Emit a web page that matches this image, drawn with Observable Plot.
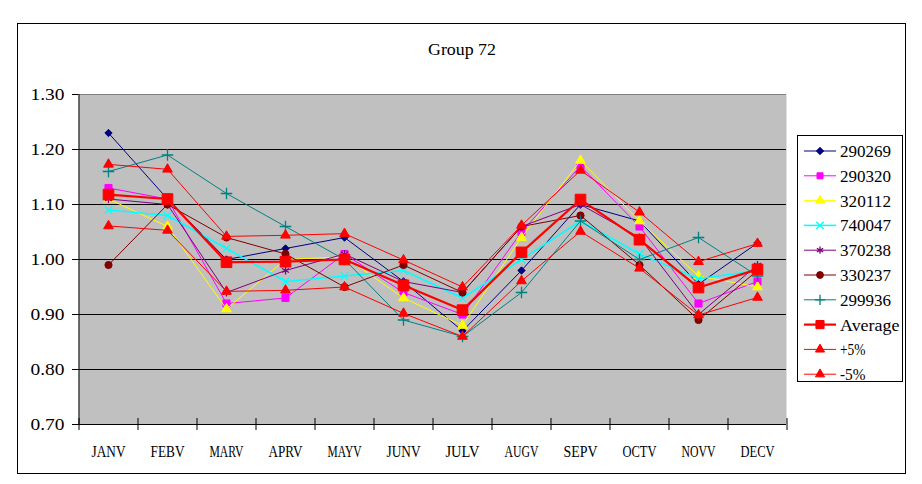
<!DOCTYPE html>
<html>
<head>
<meta charset="utf-8">
<script src="https://cdn.jsdelivr.net/npm/d3@7"></script>
<script src="https://cdn.jsdelivr.net/npm/@observablehq/plot@0.6"></script>
<style>
  body { margin: 0; background: #fff; }
  #wrap { position: relative; width: 922px; height: 484px; overflow: hidden; }
  #chart { position: absolute; left: 0; top: 0; }
  #outer { position: absolute; left: 17px; top: 23px; width: 889px; height: 451px; border: 1px solid #000; box-sizing: border-box; pointer-events: none; }
  #title { position: absolute; left: 0; top: 30px; }
  #legend { position: absolute; left: 797px; top: 135px; width: 106px; height: 247px; border: 1px solid #000; box-sizing: border-box; background: #fff; }
  #legend svg { position: absolute; left: 0; top: 0; }
</style>
</head>
<body>
<div id="wrap">
  <div id="outer"></div>
  <div id="chart"></div>
  <div id="title"></div>
  <div id="legend"></div>
</div>
<script>
// ---- data ----
const titleText = "Group 72";
const months = ["JANV","FEBV","MARV","APRV","MAYV","JUNV","JULV","AUGV","SEPV","OCTV","NOVV","DECV"];
const yTicks = [0.7, 0.8, 0.9, 1.0, 1.1, 1.2, 1.3];
const seriesNames = ["290269","290320","320112","740047","370238","330237","299936","Average","+5%","-5%"];

const s290269 = [1.23, 1.11, 1.00, 1.02, 1.04, 0.96, 0.87, 0.98, 1.10, 1.07, 0.955, 1.03];
const s290320 = [1.13, 1.11, 0.92, 0.93, 1.01, 0.94, 0.90, 1.05, 1.17, 1.06, 0.92, 0.96];
const s320112 = [1.11, 1.06, 0.91, 1.00, 1.005, 0.93, 0.88, 1.04, 1.18, 1.07, 0.97, 0.95];
const s740047 = [1.09, 1.08, 1.02, 0.96, 0.97, 0.98, 0.93, 1.00, 1.07, 1.01, 0.965, 0.98];
const s370238 = [1.11, 1.10, 0.94, 0.98, 1.01, 0.96, 0.94, 1.06, 1.10, 1.04, 0.90, 0.99];
const s330237 = [0.99, 1.10, 1.04, 1.01, 0.95, 0.99, 0.94, 1.06, 1.08, 0.99, 0.89, 0.98];
const s299936 = [1.16, 1.19, 1.12, 1.06, 1.00, 0.89, 0.86, 0.94, 1.07, 1.00, 1.04, 0.97];
const sAverage = [1.118, 1.110, 0.995, 0.996, 1.000, 0.953, 0.908, 1.013, 1.109, 1.036, 0.949, 0.982];
const sPlus5   = [1.173, 1.164, 1.042, 1.044, 1.047, 0.999, 0.950, 1.062, 1.162, 1.086, 0.996, 1.029];
const sMinus5  = [1.061, 1.053, 0.942, 0.944, 0.950, 0.902, 0.860, 0.961, 1.051, 0.984, 0.899, 0.931];

const seriesValues = [s290269, s290320, s320112, s740047, s370238, s330237, s299936, sAverage, sPlus5, sMinus5];
const colors  = ["#000080","#FF00FF","#FFFF00","#00FFFF","#800080","#800000","#008080","#FF0000","#FF0000","#FF0000"];
const symbols = ["diamond2","square","triangle","times","asterisk","circle","plus","square","triangle","triangle"];
const filled  = [true, true, true, false, false, true, false, true, true, true];
const radii   = [3.3, 4.0, 3.6, 3.6, 3.8, 3.6, 3.8, 6.0, 3.6, 3.6];
const widths  = [1, 1, 1, 1.5, 1, 1, 1, 2.2, 1, 1];

// ---- build ----
const FONT = "Liberation Serif, DejaVu Serif, serif";
const CHAR_W = 8.5;   // SimSun-like half-width advance
function condense(sel) {
  sel.each(function() {
    const t = this.textContent;
    if (t && t.length) {
      this.setAttribute("textLength", (t.length * CHAR_W).toFixed(1));
      this.setAttribute("lengthAdjust", "spacingAndGlyphs");
    }
  });
}

const marks = [
  Plot.frame({fill: "#c0c0c0", stroke: null}),
  Plot.ruleY(yTicks.slice(1, -1), {stroke: "#000", strokeWidth: 1}),
  Plot.ruleY([yTicks[yTicks.length - 1]], {stroke: "#808080", strokeWidth: 1})
];
seriesNames.forEach((name, k) => {
  const rows = months.map((m, i) => ({series: name, month: m, value: seriesValues[k][i]}));
  marks.push(Plot.line(rows, {x: "month", y: "value", stroke: colors[k], strokeWidth: widths[k]}));
  marks.push(Plot.dot(rows, {
    x: "month", y: "value", symbol: symbols[k], r: radii[k],
    fill: filled[k] ? colors[k] : "none", stroke: colors[k], strokeWidth: filled[k] ? 1 : 1.3
  }));
});
marks.push(
  Plot.ruleY([yTicks[0]], {stroke: "#000", strokeWidth: 1}),
  Plot.ruleX([months[0]], {y1: yTicks[0], y2: yTicks[yTicks.length - 1], dx: -29.5, stroke: "#000"}),
  Plot.ruleX(months, {y1: yTicks[0], y2: yTicks[0], dx: -29.5, insetTop: -6, insetBottom: -6, stroke: "#000"}),
  Plot.ruleX([months[months.length - 1]], {y1: yTicks[0], y2: yTicks[0], dx: 29.5, insetTop: -6, insetBottom: -6, stroke: "#000"}),
  Plot.axisY({ticks: yTicks, tickFormat: d => d.toFixed(2), tickSize: 6, tickPadding: 8, fontSize: 17, fontFamily: FONT, fill: "#000", label: null}),
  Plot.axisX({tickSize: 0, tickPadding: 20, fontSize: 17, fontFamily: FONT, fill: "#000", label: null})
);

const chart = Plot.plot({
  width: 922,
  height: 484,
  marginLeft: 78,
  marginRight: 136,
  marginTop: 94,
  marginBottom: 60,
  style: {background: "transparent", fontFamily: FONT, fontSize: "17px", color: "#000"},
  x: {type: "point", domain: months, padding: 0.5},
  y: {domain: [yTicks[0], yTicks[yTicks.length - 1]]},
  marks
});
document.getElementById("chart").appendChild(chart);
condense(d3.select(chart).selectAll("text"));

// ---- title ----
const ts = d3.select("#title").append("svg").attr("width", 922).attr("height", 34);
ts.append("text").attr("x", 462).attr("y", 19).attr("dy", "0.35em").attr("text-anchor", "middle")
  .attr("font-family", FONT).attr("font-size", 17).attr("fill", "#000").text(titleText);
condense(ts.selectAll("text"));

// ---- legend ----
const symMap = {diamond2: d3.symbolDiamond2, square: d3.symbolSquare, triangle: d3.symbolTriangle,
  times: d3.symbolTimes, asterisk: d3.symbolAsterisk, circle: d3.symbolCircle, plus: d3.symbolPlus};
const lg = d3.select("#legend").append("svg").attr("width", 106).attr("height", 247);
seriesNames.forEach((name, k) => {
  const cy = 15 + k * 24.8;
  const g = lg.append("g").attr("transform", `translate(0,${cy})`);
  g.append("line").attr("x1", 6).attr("x2", 38).attr("y1", 0).attr("y2", 0)
    .attr("stroke", colors[k]).attr("stroke-width", widths[k]);
  const rr = k === 7 ? 4.6 : Math.min(radii[k], 3.4);
  g.append("path").attr("transform", "translate(22,0)")
    .attr("d", d3.symbol(symMap[symbols[k]], rr * rr * Math.PI)())
    .attr("fill", filled[k] ? colors[k] : "none").attr("stroke", colors[k]).attr("stroke-width", filled[k] ? 1 : 1.3);
  g.append("text").attr("x", 42).attr("y", 0).attr("dy", "0.35em")
    .attr("font-family", FONT).attr("font-size", 17).attr("fill", "#000").text(name);
});
condense(lg.selectAll("text"));
</script>
</body>
</html>
